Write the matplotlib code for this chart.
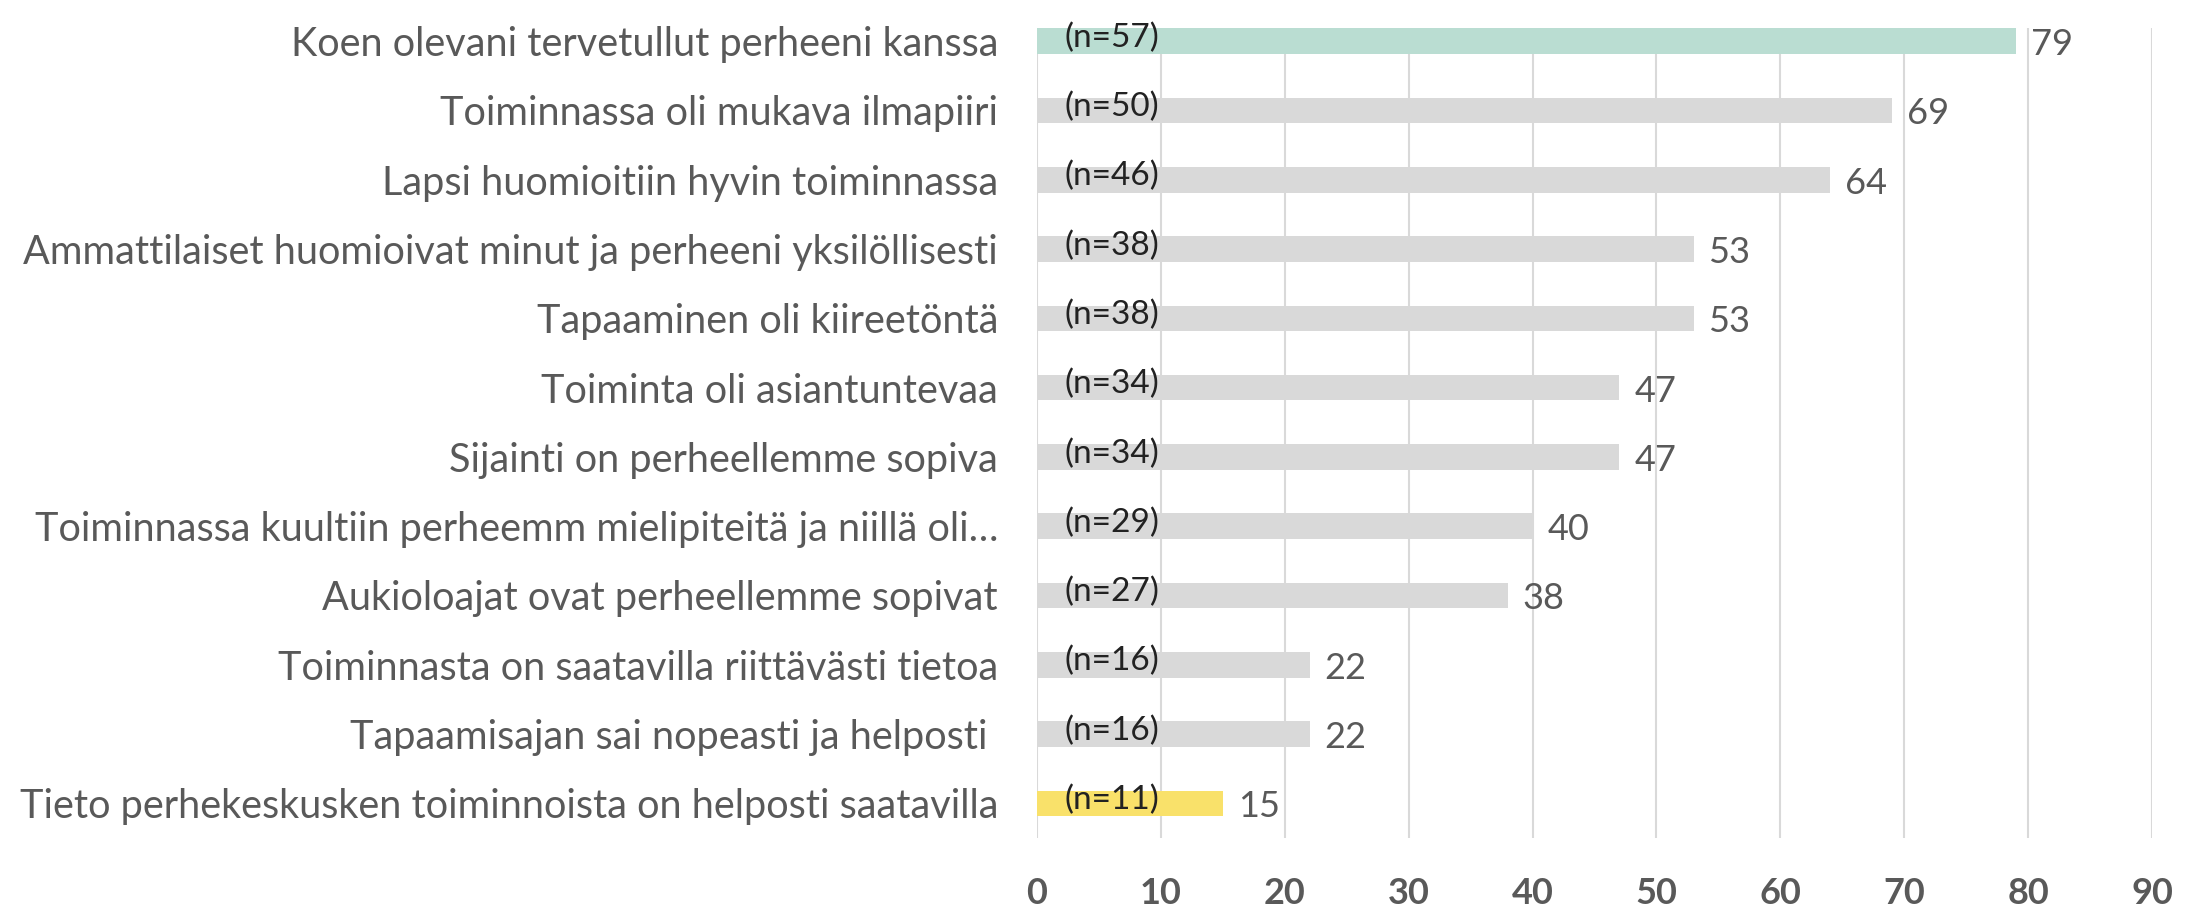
import matplotlib
matplotlib.use("Agg")
import matplotlib.pyplot as plt

plt.rcParams['font.family'] = ['Lato', 'DejaVu Sans']

# Data, top to bottom as in the chart
categories = [
    "Koen olevani tervetullut perheeni kanssa",
    "Toiminnassa oli mukava ilmapiiri",
    "Lapsi huomioitiin hyvin toiminnassa",
    "Ammattilaiset huomioivat minut ja perheeni yksilöllisesti",
    "Tapaaminen oli kiireetöntä",
    "Toiminta oli asiantuntevaa",
    "Sijainti on perheellemme sopiva",
    "Toiminnassa kuultiin perheemm mielipiteitä ja niillä oli…",
    "Aukioloajat ovat perheellemme sopivat",
    "Toiminnasta on saatavilla riittävästi tietoa",
    "Tapaamisajan sai nopeasti ja helposti ",
    "Tieto perhekeskusken toiminnoista on helposti saatavilla",
]
values = [79, 69, 64, 53, 53, 47, 47, 40, 38, 22, 22, 15]
n_labels = ["(n=57)", "(n=50)", "(n=46)", "(n=38)", "(n=38)", "(n=34)",
            "(n=34)", "(n=29)", "(n=27)", "(n=16)", "(n=16)", "(n=11)"]
xticks = [0, 10, 20, 30, 40, 50, 60, 70, 80, 90]

colors = ['#BADDD2'] + ['#D9D9D9'] * 10 + ['#F9E16A']
text_col = '#595959'

fig = plt.figure(figsize=(22, 9.1), dpi=100)
ax = fig.add_axes([1037 / 2200, 1 - 838 / 910, (2152 - 1037) / 2200, (838 - 28) / 910])

ypos = list(range(len(categories)))
ax.barh(ypos, values, height=0.37, color=colors, zorder=2)

for y, v, n in zip(ypos, values, n_labels):
    ax.text(2.2, y - 0.05, n, ha='left', va='center', fontsize=24, color='#222222', zorder=3)
    ax.text(v + 1.2, y + 0.05, str(v), ha='left', va='center', fontsize=26, color=text_col, zorder=3)

ax.set_xlim(0, 90)
ax.set_ylim(11.5, -0.19)
ax.set_xticks(xticks)
ax.set_xticklabels([str(t) for t in xticks], fontsize=26, fontweight='bold', color=text_col)
ax.set_yticks(ypos)
ax.set_yticklabels(categories, fontsize=28.5, color=text_col)
ax.tick_params(axis='both', length=0)
ax.tick_params(axis='x', pad=28)
ax.tick_params(axis='y', pad=28)
ax.grid(axis='x', color='#D9D9D9', linewidth=1.5, zorder=0)
for s in ax.spines.values():
    s.set_visible(False)

fig.savefig('out.png', dpi=100, facecolor='white')
